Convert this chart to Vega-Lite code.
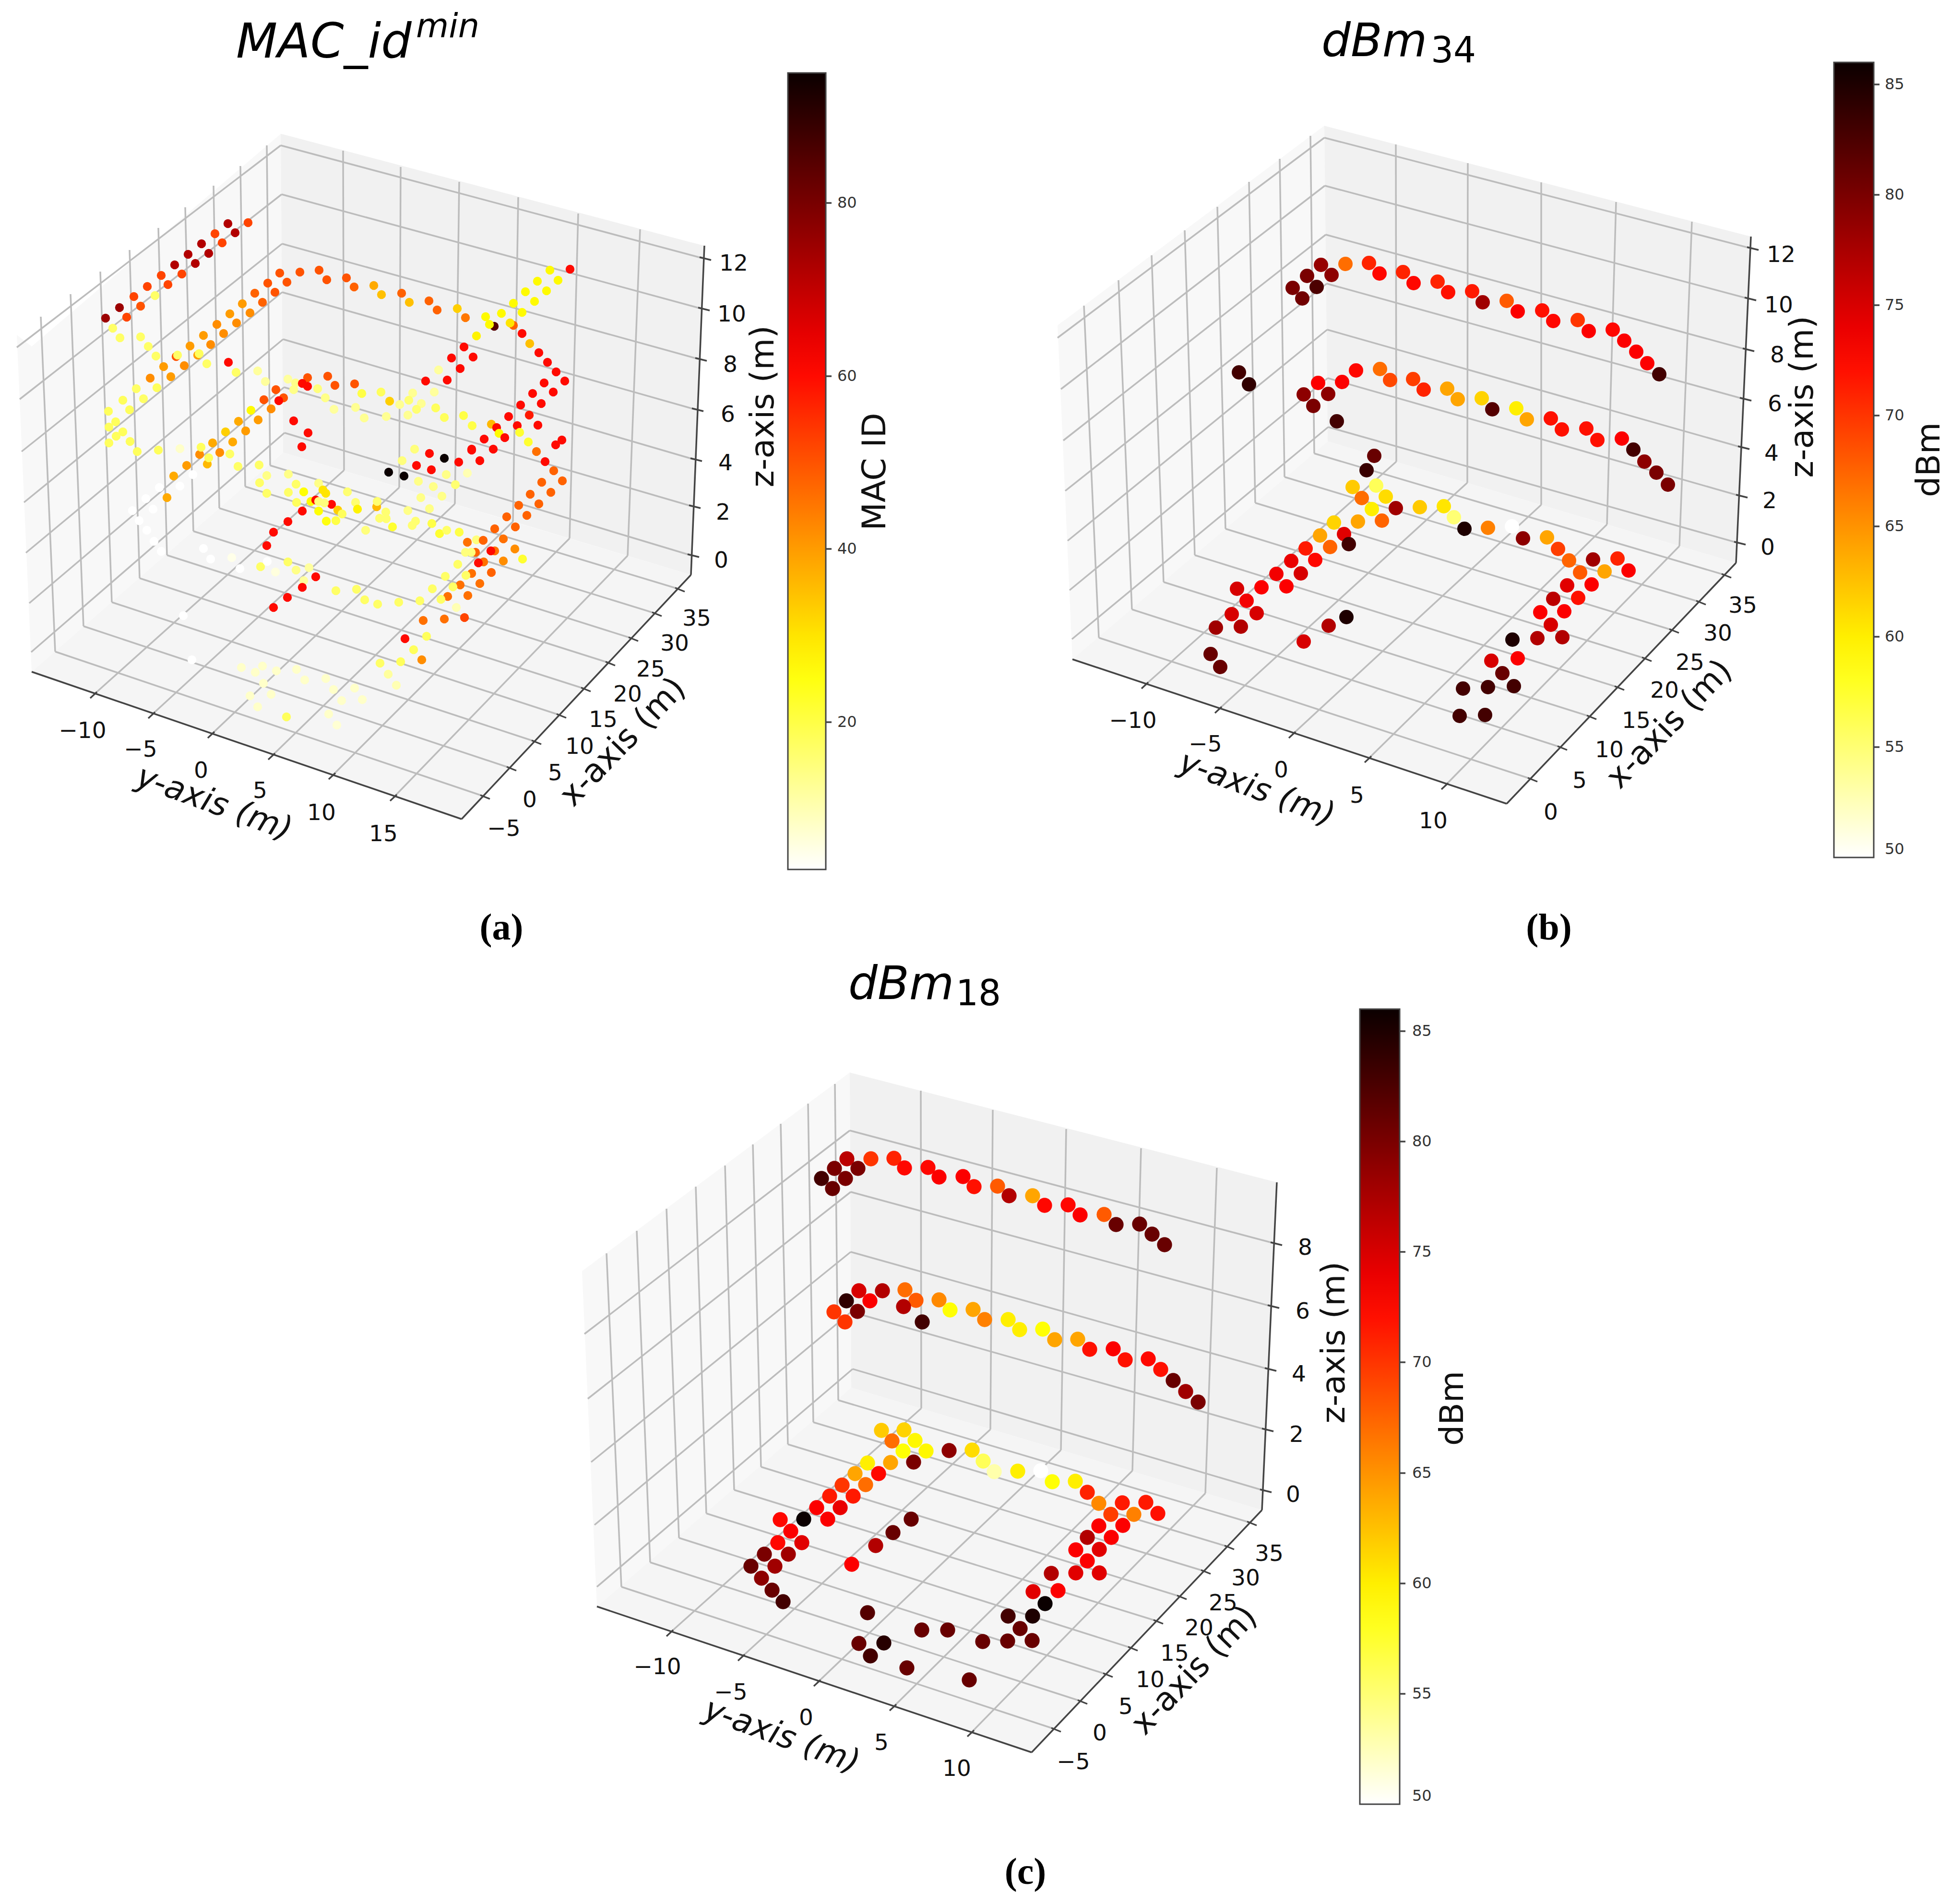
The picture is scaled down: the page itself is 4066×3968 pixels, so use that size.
{"$schema":"https://vega.github.io/schema/vega-lite/v6.json","width":4066,"height":3968,"padding":0,"autosize":{"type":"none"},"background":"white",
"datasets":{
"panes":[
{"panel":"a","pane":"left","x":35,"y":698,"y2":698},{"panel":"a","pane":"left","x":66,"y":722,"y2":1400},{"panel":"a","pane":"left","x":585,"y":279,"y2":947},{"panel":"a","pane":"left","x":590,"y":943,"y2":943},
{"panel":"a","pane":"back","x":585,"y":279,"y2":279},{"panel":"a","pane":"back","x":590,"y":280,"y2":943},{"panel":"a","pane":"back","x":1440,"y":505,"y2":1198},{"panel":"a","pane":"back","x":1468,"y":512,"y2":512},
{"panel":"a","pane":"floor","x":66,"y":1400,"y2":1400},{"panel":"a","pane":"floor","x":590,"y":943,"y2":1580},{"panel":"a","pane":"floor","x":962,"y":1055,"y2":1707},{"panel":"a","pane":"floor","x":1440,"y":1198,"y2":1198},
{"panel":"b","pane":"left","x":2204,"y":678,"y2":678},{"panel":"b","pane":"left","x":2235,"y":655,"y2":1374},{"panel":"b","pane":"left","x":2760,"y":262,"y2":926},{"panel":"b","pane":"left","x":2767,"y":920,"y2":920},
{"panel":"b","pane":"back","x":2760,"y":262,"y2":262},{"panel":"b","pane":"back","x":2767,"y":264,"y2":920},{"panel":"b","pane":"back","x":3618,"y":485,"y2":1173},{"panel":"b","pane":"back","x":3649,"y":493,"y2":493},
{"panel":"b","pane":"floor","x":2235,"y":1374,"y2":1374},{"panel":"b","pane":"floor","x":2767,"y":920,"y2":1551},{"panel":"b","pane":"floor","x":3140,"y":1031,"y2":1675},{"panel":"b","pane":"floor","x":3618,"y":1173,"y2":1173},
{"panel":"c","pane":"left","x":1213,"y":2649,"y2":2649},{"panel":"c","pane":"left","x":1244,"y":2626,"y2":3348},{"panel":"c","pane":"left","x":1771,"y":2235,"y2":2895},{"panel":"c","pane":"left","x":1774,"y":2892,"y2":2892},
{"panel":"c","pane":"back","x":1771,"y":2235,"y2":2235},{"panel":"c","pane":"back","x":1774,"y":2236,"y2":2892},{"panel":"c","pane":"back","x":2630,"y":2456,"y2":3147},{"panel":"c","pane":"back","x":2661,"y":2464,"y2":2464},
{"panel":"c","pane":"floor","x":1244,"y":3348,"y2":3348},{"panel":"c","pane":"floor","x":1774,"y":2892,"y2":3526},{"panel":"c","pane":"floor","x":2150,"y":3004,"y2":3652},{"panel":"c","pane":"floor","x":2630,"y":3147,"y2":3147}
],
"grid":[
{"x":35,"y":724,"x2":585,"y2":303},{"x":41,"y":832,"x2":587,"y2":405},{"x":45,"y":941,"x2":588,"y2":508},{"x":50,"y":1047,"x2":588,"y2":609},{"x":54,"y":1152,"x2":590,"y2":707},{"x":61,"y":1257,"x2":592,"y2":807},{"x":65,"y":1359,"x2":593,"y2":902},
{"x":585,"y":303,"x2":1464,"y2":538},{"x":587,"y":405,"x2":1461,"y2":643},{"x":588,"y":508,"x2":1455,"y2":748},{"x":588,"y":609,"x2":1448,"y2":853},{"x":590,"y":707,"x2":1445,"y2":957},{"x":592,"y":807,"x2":1442,"y2":1055},{"x":593,"y":902,"x2":1439,"y2":1157},
{"x":85,"y":660,"x2":115,"y2":1358},{"x":147,"y":613,"x2":174,"y2":1305},{"x":209,"y":566,"x2":233,"y2":1255},{"x":270,"y":521,"x2":291,"y2":1205},{"x":330,"y":475,"x2":348,"y2":1157},{"x":386,"y":432,"x2":403,"y2":1107},{"x":445,"y":387,"x2":457,"y2":1059},{"x":501,"y":346,"x2":511,"y2":1014},{"x":556,"y":303,"x2":563,"y2":970},
{"x":115,"y":1358,"x2":1007,"y2":1659},{"x":174,"y":1305,"x2":1062,"y2":1600},{"x":233,"y":1255,"x2":1114,"y2":1545},{"x":291,"y":1205,"x2":1166,"y2":1490},{"x":348,"y":1157,"x2":1217,"y2":1435},{"x":403,"y":1107,"x2":1268,"y2":1381},{"x":457,"y":1059,"x2":1316,"y2":1330},{"x":511,"y":1014,"x2":1365,"y2":1278},{"x":563,"y":970,"x2":1413,"y2":1227},
{"x":715,"y":314,"x2":717,"y2":980},{"x":835,"y":348,"x2":832,"y2":1016},{"x":957,"y":379,"x2":948,"y2":1050},{"x":1080,"y":411,"x2":1069,"y2":1087},{"x":1205,"y":445,"x2":1187,"y2":1122},{"x":1334,"y":478,"x2":1308,"y2":1158},
{"x":717,"y":980,"x2":195,"y2":1448},{"x":832,"y":1016,"x2":316,"y2":1490},{"x":948,"y":1050,"x2":440,"y2":1531},{"x":1069,"y":1087,"x2":566,"y2":1576},{"x":1187,"y":1122,"x2":692,"y2":1617},{"x":1308,"y":1158,"x2":820,"y2":1662},

{"x":2204,"y":704,"x2":2760,"y2":287},{"x":2211,"y":811,"x2":2761,"y2":387},{"x":2216,"y":918,"x2":2763,"y2":489},{"x":2220,"y":1023,"x2":2765,"y2":591},{"x":2225,"y":1127,"x2":2766,"y2":687},{"x":2229,"y":1230,"x2":2767,"y2":788},{"x":2234,"y":1332,"x2":2768,"y2":890},
{"x":2760,"y":287,"x2":3651,"y2":518},{"x":2761,"y":387,"x2":3646,"y2":623},{"x":2763,"y":489,"x2":3642,"y2":729},{"x":2765,"y":591,"x2":3636,"y2":832},{"x":2766,"y":687,"x2":3632,"y2":933},{"x":2767,"y":788,"x2":3628,"y2":1034},{"x":2768,"y":890,"x2":3624,"y2":1132},
{"x":2259,"y":637,"x2":2290,"y2":1329},{"x":2331,"y":584,"x2":2359,"y2":1270},{"x":2400,"y":532,"x2":2425,"y2":1213},{"x":2469,"y":480,"x2":2490,"y2":1157},{"x":2537,"y":431,"x2":2554,"y2":1102},{"x":2603,"y":379,"x2":2616,"y2":1048},{"x":2667,"y":331,"x2":2677,"y2":994},{"x":2731,"y":283,"x2":2739,"y2":945},
{"x":2290,"y":1329,"x2":3190,"y2":1623},{"x":2359,"y":1270,"x2":3252,"y2":1557},{"x":2425,"y":1213,"x2":3313,"y2":1493},{"x":2490,"y":1157,"x2":3371,"y2":1432},{"x":2554,"y":1102,"x2":3428,"y2":1372},{"x":2616,"y":1048,"x2":3485,"y2":1313},{"x":2677,"y":994,"x2":3541,"y2":1254},{"x":2739,"y":945,"x2":3594,"y2":1198},
{"x":2909,"y":301,"x2":2910,"y2":962},{"x":3059,"y":340,"x2":3058,"y2":1006},{"x":3212,"y":380,"x2":3212,"y2":1052},{"x":3368,"y":421,"x2":3349,"y2":1093},{"x":3526,"y":462,"x2":3500,"y2":1138},
{"x":2910,"y":962,"x2":2386,"y2":1428},{"x":3058,"y":1006,"x2":2539,"y2":1479},{"x":3212,"y":1052,"x2":2693,"y2":1531},{"x":3349,"y":1093,"x2":2851,"y2":1582},{"x":3500,"y":1138,"x2":3011,"y2":1638},

{"x":1218,"y":2780,"x2":1771,"y2":2356},{"x":1225,"y":2915,"x2":1773,"y2":2484},{"x":1232,"y":3047,"x2":1773,"y2":2609},{"x":1239,"y":3178,"x2":1774,"y2":2734},{"x":1244,"y":3307,"x2":1777,"y2":2853},
{"x":1771,"y":2356,"x2":2659,"y2":2592},{"x":1773,"y":2484,"x2":2652,"y2":2723},{"x":1773,"y":2609,"x2":2646,"y2":2854},{"x":1774,"y":2734,"x2":2640,"y2":2980},{"x":1777,"y":2853,"x2":2636,"y2":3107},
{"x":1264,"y":2612,"x2":1295,"y2":3307},{"x":1327,"y":2565,"x2":1355,"y2":3256},{"x":1389,"y":2519,"x2":1415,"y2":3205},{"x":1450,"y":2473,"x2":1472,"y2":3154},{"x":1511,"y":2429,"x2":1530,"y2":3105},{"x":1569,"y":2385,"x2":1586,"y2":3057},{"x":1627,"y":2342,"x2":1642,"y2":3010},{"x":1684,"y":2300,"x2":1695,"y2":2964},{"x":1740,"y":2259,"x2":1747,"y2":2918},
{"x":1295,"y":3307,"x2":2197,"y2":3603},{"x":1355,"y":3256,"x2":2252,"y2":3545},{"x":1415,"y":3205,"x2":2305,"y2":3489},{"x":1472,"y":3154,"x2":2357,"y2":3434},{"x":1530,"y":3105,"x2":2410,"y2":3378},{"x":1586,"y":3057,"x2":2459,"y2":3327},{"x":1642,"y":3010,"x2":2509,"y2":3274},{"x":1695,"y":2964,"x2":2558,"y2":3223},{"x":1747,"y":2918,"x2":2605,"y2":3173},
{"x":1919,"y":2273,"x2":1920,"y2":2935},{"x":2069,"y":2313,"x2":2064,"y2":2979},{"x":2222,"y":2353,"x2":2211,"y2":3022},{"x":2378,"y":2393,"x2":2360,"y2":3065},{"x":2536,"y":2434,"x2":2512,"y2":3112},
{"x":1920,"y":2935,"x2":1396,"y2":3403},{"x":2064,"y":2979,"x2":1545,"y2":3454},{"x":2211,"y":3022,"x2":1703,"y2":3507},{"x":2360,"y":3065,"x2":1861,"y2":3558},{"x":2512,"y":3112,"x2":2023,"y2":3612}
],
"axes":[
{"x":66,"y":1400,"x2":962,"y2":1707},{"x":962,"y":1707,"x2":1440,"y2":1198},{"x":1440,"y":1198,"x2":1468,"y2":512},
{"x":188,"y":1455,"x2":202,"y2":1442},{"x":309,"y":1497,"x2":323,"y2":1484},{"x":433,"y":1538,"x2":447,"y2":1525},{"x":559,"y":1583,"x2":573,"y2":1570},{"x":685,"y":1624,"x2":699,"y2":1611},{"x":813,"y":1669,"x2":827,"y2":1656},
{"x":1001,"y":1657,"x2":1021,"y2":1665},{"x":1056,"y":1598,"x2":1076,"y2":1606},{"x":1108,"y":1543,"x2":1128,"y2":1551},{"x":1160,"y":1488,"x2":1180,"y2":1496},{"x":1211,"y":1433,"x2":1231,"y2":1441},{"x":1262,"y":1379,"x2":1282,"y2":1387},{"x":1310,"y":1328,"x2":1330,"y2":1336},{"x":1359,"y":1276,"x2":1379,"y2":1284},{"x":1407,"y":1225,"x2":1427,"y2":1233},
{"x":1458,"y":536,"x2":1482,"y2":542},{"x":1455,"y":641,"x2":1479,"y2":647},{"x":1449,"y":746,"x2":1473,"y2":752},{"x":1442,"y":851,"x2":1466,"y2":857},{"x":1439,"y":955,"x2":1463,"y2":961},{"x":1436,"y":1053,"x2":1460,"y2":1059},{"x":1433,"y":1155,"x2":1457,"y2":1161},
{"x":1721,"y":423,"x2":1733,"y2":423},{"x":1721,"y":784,"x2":1733,"y2":784},{"x":1721,"y":1144,"x2":1733,"y2":1144},{"x":1721,"y":1505,"x2":1733,"y2":1505},

{"x":2235,"y":1374,"x2":3140,"y2":1675},{"x":3140,"y":1675,"x2":3618,"y2":1173},{"x":3618,"y":1173,"x2":3649,"y2":493},
{"x":2379,"y":1435,"x2":2393,"y2":1422},{"x":2532,"y":1486,"x2":2546,"y2":1473},{"x":2686,"y":1538,"x2":2700,"y2":1525},{"x":2844,"y":1589,"x2":2858,"y2":1576},{"x":3004,"y":1645,"x2":3018,"y2":1632},
{"x":3184,"y":1621,"x2":3204,"y2":1629},{"x":3246,"y":1555,"x2":3266,"y2":1563},{"x":3307,"y":1491,"x2":3327,"y2":1499},{"x":3365,"y":1430,"x2":3385,"y2":1438},{"x":3422,"y":1370,"x2":3442,"y2":1378},{"x":3479,"y":1311,"x2":3499,"y2":1319},{"x":3535,"y":1252,"x2":3555,"y2":1260},{"x":3588,"y":1196,"x2":3608,"y2":1204},
{"x":3641,"y":515,"x2":3665,"y2":521},{"x":3636,"y":620,"x2":3660,"y2":626},{"x":3632,"y":726,"x2":3656,"y2":732},{"x":3626,"y":829,"x2":3650,"y2":835},{"x":3622,"y":930,"x2":3646,"y2":936},{"x":3618,"y":1031,"x2":3642,"y2":1037},{"x":3614,"y":1129,"x2":3638,"y2":1135},
{"x":3905,"y":176,"x2":3917,"y2":176},{"x":3905,"y":406,"x2":3917,"y2":406},{"x":3905,"y":636,"x2":3917,"y2":636},{"x":3905,"y":866,"x2":3917,"y2":866},{"x":3905,"y":1097,"x2":3917,"y2":1097},{"x":3905,"y":1327,"x2":3917,"y2":1327},{"x":3905,"y":1557,"x2":3917,"y2":1557},

{"x":1244,"y":3348,"x2":2150,"y2":3652},{"x":2150,"y":3652,"x2":2630,"y2":3147},{"x":2630,"y":3147,"x2":2661,"y2":2464},
{"x":1389,"y":3410,"x2":1403,"y2":3397},{"x":1538,"y":3461,"x2":1552,"y2":3448},{"x":1696,"y":3514,"x2":1710,"y2":3501},{"x":1854,"y":3565,"x2":1868,"y2":3552},{"x":2016,"y":3619,"x2":2030,"y2":3606},
{"x":2191,"y":3601,"x2":2211,"y2":3609},{"x":2246,"y":3543,"x2":2266,"y2":3551},{"x":2299,"y":3487,"x2":2319,"y2":3495},{"x":2351,"y":3432,"x2":2371,"y2":3440},{"x":2404,"y":3376,"x2":2424,"y2":3384},{"x":2453,"y":3325,"x2":2473,"y2":3333},{"x":2503,"y":3272,"x2":2523,"y2":3280},{"x":2552,"y":3221,"x2":2572,"y2":3229},{"x":2599,"y":3171,"x2":2619,"y2":3179},
{"x":2648,"y":2589,"x2":2672,"y2":2595},{"x":2642,"y":2720,"x2":2666,"y2":2726},{"x":2636,"y":2851,"x2":2660,"y2":2857},{"x":2630,"y":2977,"x2":2654,"y2":2983},{"x":2626,"y":3104,"x2":2650,"y2":3110},
{"x":2917,"y":2149,"x2":2929,"y2":2149},{"x":2917,"y":2379,"x2":2929,"y2":2379},{"x":2917,"y":2609,"x2":2929,"y2":2609},{"x":2917,"y":2839,"x2":2929,"y2":2839},{"x":2917,"y":3070,"x2":2929,"y2":3070},{"x":2917,"y":3300,"x2":2929,"y2":3300},{"x":2917,"y":3530,"x2":2929,"y2":3530}
],
"labels":[
{"k":"tick","t":"−10","x":172,"y":1524},{"k":"tick","t":"−5","x":293,"y":1563},{"k":"tick","t":"0","x":419,"y":1607},{"k":"tick","t":"5","x":542,"y":1649},{"k":"tick","t":"10","x":670,"y":1695},{"k":"tick","t":"15","x":799,"y":1739},
{"k":"tick","t":"−5","x":1050,"y":1728},{"k":"tick","t":"0","x":1104,"y":1668},{"k":"tick","t":"5","x":1157,"y":1612},{"k":"tick","t":"10","x":1208,"y":1557},{"k":"tick","t":"15","x":1257,"y":1501},{"k":"tick","t":"20","x":1308,"y":1448},{"k":"tick","t":"25","x":1356,"y":1396},{"k":"tick","t":"30","x":1406,"y":1342},{"k":"tick","t":"35","x":1452,"y":1290},
{"k":"tick","t":"12","x":1529,"y":550},{"k":"tick","t":"10","x":1525,"y":656},{"k":"tick","t":"8","x":1522,"y":761},{"k":"tick","t":"6","x":1517,"y":865},{"k":"tick","t":"4","x":1512,"y":966},{"k":"tick","t":"2","x":1507,"y":1069},{"k":"tick","t":"0","x":1503,"y":1169},
{"k":"tick","t":"−10","x":2361,"y":1503},{"k":"tick","t":"−5","x":2512,"y":1552},{"k":"tick","t":"0","x":2670,"y":1606},{"k":"tick","t":"5","x":2828,"y":1659},{"k":"tick","t":"10","x":2987,"y":1712},
{"k":"tick","t":"0","x":3232,"y":1694},{"k":"tick","t":"5","x":3292,"y":1628},{"k":"tick","t":"10","x":3354,"y":1564},{"k":"tick","t":"15","x":3410,"y":1503},{"k":"tick","t":"20","x":3469,"y":1440},{"k":"tick","t":"25","x":3522,"y":1382},{"k":"tick","t":"30","x":3580,"y":1321},{"k":"tick","t":"35","x":3632,"y":1263},
{"k":"tick","t":"12","x":3712,"y":532},{"k":"tick","t":"10","x":3707,"y":637},{"k":"tick","t":"8","x":3704,"y":741},{"k":"tick","t":"6","x":3699,"y":843},{"k":"tick","t":"4","x":3692,"y":946},{"k":"tick","t":"2","x":3688,"y":1045},{"k":"tick","t":"0","x":3684,"y":1142},
{"k":"tick","t":"−10","x":1370,"y":3475},{"k":"tick","t":"−5","x":1523,"y":3528},{"k":"tick","t":"0","x":1680,"y":3581},{"k":"tick","t":"5","x":1837,"y":3633},{"k":"tick","t":"10","x":1994,"y":3687},
{"k":"tick","t":"−5","x":2237,"y":3673},{"k":"tick","t":"0","x":2292,"y":3613},{"k":"tick","t":"5","x":2346,"y":3558},{"k":"tick","t":"10","x":2397,"y":3502},{"k":"tick","t":"15","x":2448,"y":3447},{"k":"tick","t":"20","x":2499,"y":3394},{"k":"tick","t":"25","x":2549,"y":3342},{"k":"tick","t":"30","x":2596,"y":3290},{"k":"tick","t":"35","x":2645,"y":3239},
{"k":"tick","t":"8","x":2720,"y":2601},{"k":"tick","t":"6","x":2715,"y":2734},{"k":"tick","t":"4","x":2707,"y":2865},{"k":"tick","t":"2","x":2702,"y":2991},{"k":"tick","t":"0","x":2695,"y":3116},
{"k":"ytitle","t":"y-axis (m)","x":446,"y":1675},{"k":"ytitle","t":"y-axis (m)","x":2619,"y":1645},{"k":"ytitle","t":"y-axis (m)","x":1629,"y":3619},
{"k":"xtitle","t":"x-axis (m)","x":1299,"y":1547},{"k":"xtitle","t":"x-axis (m)","x":3480,"y":1510},{"k":"xtitle","t":"x-axis (m)","x":2490,"y":3482},
{"k":"ztitle","t":"z-axis (m)","x":1592,"y":847},{"k":"ztitle","t":"z-axis (m)","x":3758,"y":827},{"k":"ztitle","t":"z-axis (m)","x":2782,"y":2798},
{"k":"ztitle","t":"MAC ID","x":1825,"y":983},{"k":"ztitle","t":"dBm","x":4022,"y":958},{"k":"ztitle","t":"dBm","x":3029,"y":2935},
{"k":"main","t":"MAC_id","x":492,"y":120},{"k":"main2","t":"dBm","x":2754,"y":117},{"k":"main2","t":"dBm","x":1768,"y":2082},
{"k":"sup","t":"min","x":867,"y":78},{"k":"sub","t":"34","x":2982,"y":130},{"k":"sub","t":"18","x":1992,"y":2095},
{"k":"caption","t":"(a)","x":1045,"y":1958},{"k":"caption","t":"(b)","x":3228,"y":1958},{"k":"caption","t":"(c)","x":2137,"y":3926}
],
"macId":[
{"x":220,"y":663,"v":75},{"x":249,"y":641,"v":75},{"x":264,"y":661,"v":52},{"x":279,"y":618,"v":52},{"x":293,"y":638,"v":50},{"x":307,"y":597,"v":52},{"x":323,"y":616,"v":17},{"x":336,"y":574,"v":52},{"x":350,"y":593,"v":52},{"x":364,"y":552,"v":72},{"x":379,"y":571,"v":52},{"x":392,"y":530,"v":72},{"x":407,"y":549,"v":72},{"x":420,"y":508,"v":72},{"x":435,"y":528,"v":72},{"x":448,"y":487,"v":52},{"x":463,"y":506,"v":52},{"x":475,"y":466,"v":72},{"x":490,"y":485,"v":72},{"x":517,"y":464,"v":52},
{"x":235,"y":684,"v":17},{"x":250,"y":704,"v":17},{"x":293,"y":702,"v":17},{"x":309,"y":722,"v":17},{"x":325,"y":742,"v":17},{"x":341,"y":764,"v":40},{"x":356,"y":785,"v":40},{"x":313,"y":788,"v":42},{"x":284,"y":810,"v":17},{"x":299,"y":831,"v":17},{"x":327,"y":808,"v":18},{"x":384,"y":762,"v":42},{"x":367,"y":743,"v":50},{"x":370,"y":740,"v":17},{"x":396,"y":721,"v":40},{"x":412,"y":740,"v":40},{"x":415,"y":737,"v":18},{"x":439,"y":718,"v":42},{"x":424,"y":699,"v":40},{"x":466,"y":695,"v":42},{"x":452,"y":676,"v":42},{"x":493,"y":673,"v":42},{"x":479,"y":654,"v":40},{"x":521,"y":652,"v":42},{"x":505,"y":633,"v":40},{"x":547,"y":630,"v":48},{"x":531,"y":611,"v":48},{"x":573,"y":609,"v":50},{"x":558,"y":590,"v":50},{"x":598,"y":588,"v":50},{"x":583,"y":569,"v":50},{"x":625,"y":567,"v":50},{"x":665,"y":563,"v":50},{"x":681,"y":583,"v":50},{"x":722,"y":579,"v":50},{"x":738,"y":598,"v":48},{"x":779,"y":595,"v":38},{"x":795,"y":614,"v":35},{"x":837,"y":611,"v":48},{"x":853,"y":630,"v":35},{"x":894,"y":627,"v":48},{"x":911,"y":646,"v":48},{"x":953,"y":643,"v":33},{"x":970,"y":662,"v":45},{"x":993,"y":700,"v":28},
{"x":1030,"y":680,"v":85},{"x":1012,"y":660,"v":27},{"x":1020,"y":676,"v":27},{"x":1045,"y":653,"v":27},{"x":1070,"y":632,"v":27},{"x":1088,"y":651,"v":27},{"x":1095,"y":608,"v":27},{"x":1114,"y":628,"v":27},{"x":1120,"y":586,"v":27},{"x":1139,"y":606,"v":27},{"x":1146,"y":563,"v":27},{"x":1163,"y":584,"v":27},{"x":1188,"y":561,"v":60},{"x":1070,"y":678,"v":48},{"x":1063,"y":673,"v":30},{"x":1088,"y":695,"v":60},{"x":1104,"y":716,"v":35},{"x":1123,"y":735,"v":60},{"x":1141,"y":755,"v":60},{"x":1159,"y":775,"v":60},{"x":1177,"y":794,"v":60},{"x":1134,"y":798,"v":60},{"x":1153,"y":817,"v":60},{"x":1110,"y":820,"v":60},{"x":1128,"y":841,"v":60},{"x":1085,"y":844,"v":60},{"x":1103,"y":865,"v":58},{"x":1121,"y":886,"v":60},{"x":1060,"y":868,"v":60},{"x":1078,"y":887,"v":60},{"x":1024,"y":884,"v":36},{"x":1035,"y":891,"v":60},{"x":1040,"y":903,"v":27},{"x":1052,"y":912,"v":60},{"x":1009,"y":915,"v":60},{"x":1028,"y":936,"v":60},{"x":983,"y":938,"v":60},{"x":1000,"y":960,"v":60},{"x":956,"y":963,"v":60},{"x":1083,"y":901,"v":22},{"x":1101,"y":921,"v":22},{"x":966,"y":866,"v":20},{"x":984,"y":887,"v":20},{"x":926,"y":870,"v":18},{"x":908,"y":850,"v":18},{"x":905,"y":817,"v":12},{"x":986,"y":744,"v":60},{"x":967,"y":723,"v":60},{"x":941,"y":746,"v":60},{"x":959,"y":768,"v":60},{"x":914,"y":771,"v":12},{"x":932,"y":792,"v":60},{"x":1118,"y":941,"v":46},{"x":1136,"y":962,"v":60},{"x":1154,"y":981,"v":48},{"x":1158,"y":927,"v":60},{"x":1171,"y":917,"v":60},{"x":887,"y":794,"v":60},
{"x":476,"y":755,"v":60},{"x":492,"y":776,"v":17},{"x":431,"y":758,"v":17},{"x":537,"y":773,"v":12},{"x":553,"y":795,"v":12},{"x":600,"y":790,"v":12},{"x":616,"y":798,"v":14},{"x":612,"y":812,"v":14},{"x":641,"y":787,"v":50},{"x":630,"y":799,"v":60},{"x":641,"y":805,"v":60},{"x":662,"y":810,"v":15},{"x":683,"y":784,"v":50},{"x":698,"y":803,"v":50},{"x":678,"y":829,"v":14},{"x":696,"y":853,"v":12},{"x":739,"y":800,"v":50},{"x":754,"y":820,"v":20},{"x":741,"y":849,"v":13},{"x":759,"y":871,"v":13},{"x":794,"y":817,"v":18},{"x":812,"y":836,"v":33},{"x":805,"y":868,"v":13},{"x":833,"y":843,"v":13},{"x":860,"y":819,"v":13},{"x":852,"y":834,"v":16},{"x":878,"y":841,"v":13},{"x":868,"y":853,"v":16},{"x":850,"y":865,"v":13},
{"x":575,"y":812,"v":50},{"x":550,"y":833,"v":50},{"x":591,"y":829,"v":50},{"x":581,"y":835,"v":60},{"x":565,"y":852,"v":42},{"x":523,"y":855,"v":27},{"x":538,"y":875,"v":40},{"x":497,"y":878,"v":38},{"x":512,"y":898,"v":40},{"x":470,"y":900,"v":33},{"x":485,"y":921,"v":38},{"x":443,"y":923,"v":38},{"x":458,"y":943,"v":42},{"x":416,"y":947,"v":42},{"x":432,"y":967,"v":36},{"x":389,"y":970,"v":40},{"x":362,"y":992,"v":38},{"x":348,"y":1037,"v":38},{"x":419,"y":932,"v":18},{"x":435,"y":954,"v":18},{"x":479,"y":946,"v":17},{"x":496,"y":972,"v":17},{"x":540,"y":969,"v":17},{"x":556,"y":991,"v":14},{"x":601,"y":988,"v":14},{"x":375,"y":935,"v":8},{"x":330,"y":938,"v":18},{"x":286,"y":941,"v":18},{"x":271,"y":920,"v":18},{"x":227,"y":923,"v":18},{"x":242,"y":909,"v":18},{"x":256,"y":900,"v":18},{"x":227,"y":890,"v":18},{"x":241,"y":879,"v":18},{"x":226,"y":857,"v":18},{"x":270,"y":854,"v":18},{"x":256,"y":834,"v":18},{"x":612,"y":877,"v":60},{"x":642,"y":902,"v":60},{"x":629,"y":931,"v":60},
{"x":864,"y":936,"v":15},{"x":895,"y":945,"v":60},{"x":926,"y":955,"v":95},{"x":983,"y":936,"v":60},{"x":974,"y":986,"v":10},{"x":868,"y":970,"v":60},{"x":899,"y":979,"v":60},{"x":838,"y":960,"v":15},{"x":810,"y":984,"v":95},{"x":842,"y":992,"v":95},{"x":930,"y":989,"v":14},{"x":949,"y":1010,"v":16},{"x":872,"y":1003,"v":14},{"x":903,"y":1014,"v":14},{"x":877,"y":1037,"v":14},{"x":921,"y":1034,"v":14},{"x":895,"y":1060,"v":14},{"x":850,"y":1064,"v":14},{"x":785,"y":1056,"v":36},{"x":786,"y":1045,"v":16},
{"x":541,"y":1006,"v":17},{"x":556,"y":1028,"v":17},{"x":617,"y":1009,"v":17},{"x":601,"y":1026,"v":17},{"x":633,"y":1025,"v":26},{"x":664,"y":1007,"v":14},{"x":673,"y":1021,"v":30},{"x":679,"y":1028,"v":30},{"x":724,"y":1025,"v":16},{"x":618,"y":1047,"v":18},{"x":648,"y":1045,"v":27},{"x":658,"y":1042,"v":60},{"x":664,"y":1045,"v":15},{"x":691,"y":1051,"v":60},{"x":676,"y":1048,"v":15},{"x":630,"y":1065,"v":60},{"x":664,"y":1065,"v":26},{"x":704,"y":1063,"v":33},{"x":713,"y":1071,"v":18},{"x":680,"y":1086,"v":25},{"x":700,"y":1085,"v":20},{"x":741,"y":1047,"v":16},{"x":745,"y":1061,"v":28},{"x":804,"y":1067,"v":16},{"x":791,"y":1080,"v":16},{"x":805,"y":1081,"v":16},{"x":818,"y":1098,"v":22},{"x":762,"y":1105,"v":15},{"x":866,"y":1086,"v":16},{"x":859,"y":1095,"v":16},{"x":900,"y":1091,"v":20},{"x":916,"y":1112,"v":22},{"x":931,"y":1105,"v":17},{"x":957,"y":1109,"v":20},{"x":600,"y":1087,"v":60},{"x":570,"y":1109,"v":60},{"x":556,"y":1137,"v":60},
{"x":974,"y":1130,"v":46},{"x":993,"y":1125,"v":15},{"x":991,"y":1151,"v":48},{"x":970,"y":1151,"v":15},{"x":982,"y":1151,"v":15},{"x":1008,"y":1171,"v":46},{"x":997,"y":1173,"v":60},{"x":954,"y":1176,"v":17},{"x":983,"y":1195,"v":46},{"x":971,"y":1199,"v":17},{"x":928,"y":1201,"v":17},{"x":959,"y":1219,"v":46},{"x":944,"y":1223,"v":17},{"x":901,"y":1227,"v":17},{"x":933,"y":1243,"v":46},{"x":919,"y":1249,"v":17},{"x":975,"y":1241,"v":46},{"x":1000,"y":1216,"v":46},{"x":875,"y":1252,"v":17},{"x":831,"y":1255,"v":17},{"x":787,"y":1259,"v":17},{"x":760,"y":1250,"v":17},{"x":743,"y":1228,"v":17},{"x":700,"y":1231,"v":17},{"x":951,"y":1266,"v":10},{"x":968,"y":1287,"v":52},{"x":926,"y":1290,"v":46},{"x":882,"y":1293,"v":46},{"x":889,"y":1326,"v":18},{"x":844,"y":1331,"v":60},{"x":862,"y":1354,"v":18},{"x":879,"y":1375,"v":42},{"x":835,"y":1379,"v":18},{"x":792,"y":1382,"v":17},{"x":809,"y":1405,"v":12},{"x":826,"y":1428,"v":10},
{"x":644,"y":1183,"v":12},{"x":617,"y":1188,"v":14},{"x":633,"y":1210,"v":12},{"x":658,"y":1202,"v":60},{"x":630,"y":1224,"v":60},{"x":599,"y":1245,"v":60},{"x":570,"y":1266,"v":60},{"x":600,"y":1171,"v":17},{"x":543,"y":1181,"v":17},{"x":557,"y":1170,"v":3},{"x":574,"y":1192,"v":6},{"x":500,"y":1185,"v":3},{"x":483,"y":1162,"v":5},{"x":439,"y":1165,"v":3},{"x":424,"y":1143,"v":3},{"x":336,"y":1149,"v":3},{"x":321,"y":1128,"v":3},{"x":306,"y":1105,"v":3},{"x":290,"y":1085,"v":3},{"x":276,"y":1064,"v":3},{"x":319,"y":1061,"v":3},{"x":304,"y":1039,"v":3},{"x":332,"y":1016,"v":3},{"x":375,"y":1013,"v":3},{"x":402,"y":989,"v":3},{"x":382,"y":1283,"v":3},{"x":400,"y":1375,"v":3},
{"x":503,"y":1391,"v":8},{"x":532,"y":1401,"v":8},{"x":547,"y":1388,"v":8},{"x":576,"y":1398,"v":8},{"x":618,"y":1395,"v":8},{"x":635,"y":1417,"v":8},{"x":679,"y":1414,"v":8},{"x":695,"y":1437,"v":8},{"x":739,"y":1434,"v":8},{"x":712,"y":1460,"v":8},{"x":755,"y":1458,"v":8},{"x":549,"y":1424,"v":8},{"x":565,"y":1447,"v":8},{"x":521,"y":1450,"v":8},{"x":537,"y":1473,"v":8},{"x":597,"y":1494,"v":18},{"x":685,"y":1488,"v":8},{"x":702,"y":1511,"v":7},
{"x":1172,"y":1002,"v":48},{"x":1129,"y":1005,"v":48},{"x":1148,"y":1026,"v":48},{"x":1105,"y":1030,"v":48},{"x":1123,"y":1050,"v":48},{"x":1081,"y":1053,"v":48},{"x":1098,"y":1074,"v":48},{"x":1056,"y":1077,"v":48},{"x":1074,"y":1098,"v":48},{"x":1031,"y":1102,"v":48},{"x":1049,"y":1123,"v":46},{"x":1007,"y":1126,"v":48},{"x":1031,"y":1148,"v":46},{"x":1023,"y":1148,"v":60},{"x":1073,"y":1144,"v":42},{"x":1089,"y":1165,"v":22},{"x":1049,"y":1169,"v":42},{"x":1024,"y":1193,"v":48}
],
"dbm34":[
{"x":2753,"y":552,"v":78.5},{"x":2804,"y":550,"v":67},{"x":2853,"y":548,"v":71},{"x":2875,"y":570,"v":72.5},{"x":2924,"y":567,"v":71},{"x":2946,"y":590,"v":72.5},{"x":2775,"y":573,"v":79},{"x":2724,"y":575,"v":80},{"x":2744,"y":598,"v":82.5},{"x":2694,"y":600,"v":80},{"x":2714,"y":622,"v":80.5},{"x":2582,"y":776,"v":83},{"x":2603,"y":801,"v":84},{"x":2826,"y":772,"v":72.5},{"x":2876,"y":769,"v":67},{"x":2897,"y":792,"v":69},{"x":2945,"y":790,"v":69.5},{"x":2967,"y":812,"v":71},{"x":2747,"y":798,"v":73},{"x":2797,"y":796,"v":73},{"x":2717,"y":822,"v":79},{"x":2768,"y":821,"v":79},{"x":2737,"y":846,"v":80},{"x":2786,"y":878,"v":83},{"x":2864,"y":950,"v":81},{"x":2848,"y":980,"v":83.5},{"x":2819,"y":1015,"v":62},{"x":2868,"y":1012,"v":56},{"x":2838,"y":1038,"v":67},{"x":2888,"y":1035,"v":61},{"x":2859,"y":1061,"v":60},{"x":2909,"y":1059,"v":78},{"x":2959,"y":1057,"v":62},{"x":2830,"y":1087,"v":64},{"x":2880,"y":1085,"v":67.5},{"x":2780,"y":1089,"v":61.5},{"x":2751,"y":1116,"v":64},{"x":2801,"y":1113,"v":74.5},{"x":2811,"y":1134,"v":83},{"x":2772,"y":1140,"v":67.5},{"x":2721,"y":1143,"v":71.5},{"x":2691,"y":1169,"v":74},{"x":2741,"y":1167,"v":72.5},{"x":2660,"y":1196,"v":73.5},{"x":2711,"y":1195,"v":75},
{"x":2629,"y":1224,"v":73},{"x":2681,"y":1222,"v":73},{"x":2578,"y":1227,"v":75},{"x":2598,"y":1252,"v":73.5},{"x":2567,"y":1280,"v":75},{"x":2619,"y":1278,"v":75},{"x":2534,"y":1308,"v":78},{"x":2586,"y":1306,"v":77},{"x":2523,"y":1363,"v":81},{"x":2543,"y":1390,"v":81},{"x":2717,"y":1337,"v":75},{"x":2769,"y":1304,"v":77},{"x":2806,"y":1286,"v":85},
{"x":2996,"y":587,"v":71},{"x":3018,"y":609,"v":72},{"x":3068,"y":607,"v":71.5},{"x":3090,"y":630,"v":78},{"x":3140,"y":627,"v":68},{"x":3163,"y":649,"v":73},{"x":3214,"y":647,"v":72},{"x":3237,"y":669,"v":72.5},{"x":3288,"y":667,"v":70},{"x":3311,"y":690,"v":73},{"x":3361,"y":687,"v":72.5},{"x":3385,"y":710,"v":73},{"x":3410,"y":733,"v":73},{"x":3433,"y":757,"v":73},{"x":3458,"y":780,"v":83},
{"x":3016,"y":810,"v":64},{"x":3038,"y":832,"v":64},{"x":3088,"y":830,"v":61.5},{"x":3110,"y":853,"v":82},{"x":3160,"y":851,"v":60},{"x":3182,"y":874,"v":64},{"x":3232,"y":872,"v":72},{"x":3255,"y":895,"v":72},{"x":3306,"y":893,"v":72},{"x":3329,"y":917,"v":72},{"x":3380,"y":914,"v":73},{"x":3404,"y":937,"v":83},{"x":3427,"y":962,"v":79},{"x":3452,"y":985,"v":80},{"x":3476,"y":1010,"v":80},
{"x":3009,"y":1055,"v":60.5},{"x":3030,"y":1078,"v":55},{"x":3052,"y":1102,"v":85},{"x":3101,"y":1100,"v":66},{"x":3151,"y":1097,"v":50},{"x":3174,"y":1122,"v":79},{"x":3224,"y":1120,"v":64},{"x":3247,"y":1144,"v":69.5},{"x":3270,"y":1168,"v":67.5},{"x":3293,"y":1193,"v":68},
{"x":3320,"y":1166,"v":78},{"x":3371,"y":1164,"v":71},{"x":3394,"y":1189,"v":73},{"x":3344,"y":1191,"v":64},{"x":3317,"y":1218,"v":73},{"x":3266,"y":1220,"v":74.5},{"x":3289,"y":1246,"v":72},{"x":3237,"y":1248,"v":76.5},{"x":3260,"y":1274,"v":73},{"x":3210,"y":1276,"v":73},{"x":3232,"y":1302,"v":75},{"x":3204,"y":1330,"v":77},{"x":3256,"y":1328,"v":77},{"x":3152,"y":1333,"v":85},{"x":3163,"y":1372,"v":73},{"x":3108,"y":1377,"v":75},{"x":3131,"y":1403,"v":81},{"x":3101,"y":1432,"v":83},{"x":3155,"y":1430,"v":83},{"x":3049,"y":1435,"v":83},{"x":3042,"y":1492,"v":83},{"x":3095,"y":1490,"v":83}
],
"dbm18":[
{"x":1765,"y":2415,"v":76.5},{"x":1815,"y":2415,"v":70},{"x":1863,"y":2414,"v":71},{"x":1885,"y":2434,"v":72.5},{"x":1934,"y":2433,"v":72.5},{"x":1957,"y":2453,"v":73},{"x":1788,"y":2435,"v":80},{"x":1739,"y":2435,"v":80},{"x":1762,"y":2456,"v":80},{"x":1712,"y":2456,"v":83},{"x":1735,"y":2477,"v":81},{"x":1790,"y":2690,"v":75},{"x":1839,"y":2690,"v":77},{"x":1886,"y":2688,"v":67},{"x":1909,"y":2710,"v":68},{"x":1957,"y":2709,"v":65.5},{"x":1764,"y":2711,"v":84},{"x":1813,"y":2711,"v":73},{"x":1883,"y":2723,"v":77},{"x":1738,"y":2734,"v":70},{"x":1787,"y":2733,"v":80},{"x":1761,"y":2755,"v":70},{"x":1922,"y":2755,"v":83},{"x":1980,"y":2730,"v":59},
{"x":2007,"y":2452,"v":73},{"x":2030,"y":2473,"v":72},{"x":2079,"y":2472,"v":68},{"x":2103,"y":2492,"v":77},{"x":2152,"y":2492,"v":64},{"x":2177,"y":2512,"v":72.5},{"x":2226,"y":2511,"v":72.5},{"x":2251,"y":2532,"v":73},{"x":2301,"y":2531,"v":68},{"x":2326,"y":2552,"v":81},{"x":2375,"y":2551,"v":81},{"x":2401,"y":2572,"v":81},{"x":2427,"y":2594,"v":81},
{"x":2028,"y":2729,"v":64},{"x":2052,"y":2750,"v":66},{"x":2101,"y":2750,"v":60},{"x":2125,"y":2771,"v":60},{"x":2173,"y":2770,"v":59},{"x":2198,"y":2792,"v":64},{"x":2246,"y":2791,"v":64},{"x":2271,"y":2812,"v":72},{"x":2320,"y":2811,"v":73},{"x":2345,"y":2834,"v":72},{"x":2393,"y":2832,"v":72.5},{"x":2419,"y":2854,"v":72},{"x":2445,"y":2877,"v":81},{"x":2471,"y":2900,"v":78},{"x":2497,"y":2922,"v":80},
{"x":1978,"y":3023,"v":79},{"x":2026,"y":3022,"v":61},{"x":2049,"y":3045,"v":56},{"x":2072,"y":3067,"v":53},{"x":2121,"y":3066,"v":60},{"x":2169,"y":3065,"v":50},{"x":2193,"y":3088,"v":59},{"x":2241,"y":3087,"v":60},
{"x":2266,"y":3110,"v":71},{"x":2290,"y":3133,"v":65.5},{"x":2339,"y":3132,"v":71.5},{"x":2388,"y":3131,"v":71.5},{"x":2413,"y":3154,"v":72},{"x":2363,"y":3156,"v":66},{"x":2315,"y":3156,"v":69.5},{"x":2290,"y":3180,"v":73},{"x":2340,"y":3179,"v":73},{"x":2316,"y":3204,"v":73},{"x":2266,"y":3204,"v":77},{"x":2291,"y":3229,"v":74.5},{"x":2242,"y":3230,"v":73},{"x":2266,"y":3253,"v":73},{"x":2242,"y":3278,"v":74.5},{"x":2291,"y":3278,"v":74.5},{"x":2191,"y":3279,"v":77},{"x":2205,"y":3315,"v":73},{"x":2153,"y":3317,"v":74.5},{"x":2178,"y":3342,"v":86},{"x":2152,"y":3368,"v":85},{"x":2101,"y":3368,"v":83},{"x":2126,"y":3394,"v":81},{"x":2100,"y":3420,"v":81},{"x":2151,"y":3419,"v":81},{"x":2048,"y":3421,"v":81},{"x":2020,"y":3501,"v":81},{"x":1975,"y":3397,"v":81},
{"x":1837,"y":2981,"v":62},{"x":1884,"y":2980,"v":61.5},{"x":1907,"y":3002,"v":59.5},{"x":1859,"y":3003,"v":67},{"x":1882,"y":3024,"v":59},{"x":1930,"y":3024,"v":59.5},{"x":1904,"y":3047,"v":80},{"x":1856,"y":3048,"v":64},{"x":1808,"y":3049,"v":60},{"x":1831,"y":3071,"v":72.5},{"x":1782,"y":3071,"v":64},{"x":1804,"y":3094,"v":67},{"x":1755,"y":3095,"v":70},{"x":1729,"y":3118,"v":71.5},{"x":1778,"y":3118,"v":71.5},{"x":1702,"y":3142,"v":73},{"x":1751,"y":3142,"v":74},{"x":1675,"y":3166,"v":86},{"x":1725,"y":3166,"v":73},{"x":1626,"y":3167,"v":72.5},{"x":1648,"y":3191,"v":73},{"x":1671,"y":3215,"v":74.5},{"x":1621,"y":3215,"v":72.5},{"x":1643,"y":3239,"v":78},{"x":1593,"y":3239,"v":80},{"x":1615,"y":3264,"v":78},{"x":1565,"y":3264,"v":81},{"x":1587,"y":3289,"v":79},{"x":1609,"y":3314,"v":81},{"x":1632,"y":3338,"v":83},{"x":1775,"y":3260,"v":73},{"x":1825,"y":3221,"v":77},{"x":1861,"y":3194,"v":81},{"x":1899,"y":3166,"v":81},{"x":1808,"y":3361,"v":82},{"x":1790,"y":3425,"v":81},{"x":1842,"y":3424,"v":84.5},{"x":1814,"y":3451,"v":83},{"x":1890,"y":3476,"v":81},{"x":1921,"y":3397,"v":81}
]
},
"encoding":{
"x":{"field":"x","type":"quantitative","scale":{"domain":[0,4066],"nice":false,"zero":false},"axis":null},
"y":{"field":"y","type":"quantitative","scale":{"domain":[3968,0],"nice":false,"zero":false},"axis":null}
},
"layer":[
{"data":{"name":"panes"},"transform":[{"filter":"datum.pane==='left'"}],"mark":{"type":"area","color":"#f8f8f8"},"encoding":{"y2":{"field":"y2"},"detail":{"field":"panel"}}},
{"data":{"name":"panes"},"transform":[{"filter":"datum.pane==='back'"}],"mark":{"type":"area","color":"#f1f1f1"},"encoding":{"y2":{"field":"y2"},"detail":{"field":"panel"}}},
{"data":{"name":"panes"},"transform":[{"filter":"datum.pane==='floor'"}],"mark":{"type":"area","color":"#f5f5f5"},"encoding":{"y2":{"field":"y2"},"detail":{"field":"panel"}}},
{"data":{"name":"grid"},"mark":{"type":"rule","color":"#bcbcbc","strokeWidth":3.5},"encoding":{"x2":{"field":"x2"},"y2":{"field":"y2"}}},
{"data":{"name":"axes"},"mark":{"type":"rule","color":"#444444","strokeWidth":3.5},"encoding":{"x2":{"field":"x2"},"y2":{"field":"y2"}}},
{"data":{"name":"macId"},"mark":{"type":"circle","size":340,"opacity":1},"encoding":{"color":{"field":"v","type":"quantitative","scale":{"domain":[3,26.4,61.4,95],"range":["#ffffff","#ffff00","#ff0000","#0b0000"],"interpolate":"rgb","nice":false,"zero":false},"legend":{"title":null,"orient":"none","legendX":1642,"legendY":152,"direction":"vertical","gradientLength":1660,"gradientThickness":79,"values":[20,40,60,80],"labelFontSize":32,"labelFont":"DejaVu Sans","labelColor":"#333333","labelOffset":24,"gradientStrokeColor":"#444444","gradientStrokeWidth":3}}}},
{"data":{"name":"dbm34"},"mark":{"type":"circle","size":900,"opacity":1},"encoding":{"color":{"field":"v","type":"quantitative","scale":{"domain":[50,59.14,72.86,86],"range":["#ffffff","#ffff00","#ff0000","#0b0000"],"interpolate":"rgb","nice":false,"zero":false},"legend":{"title":null,"orient":"none","legendX":3822,"legendY":130,"direction":"vertical","gradientLength":1657,"gradientThickness":83,"values":[50,55,60,65,70,75,80,85],"labelFontSize":32,"labelFont":"DejaVu Sans","labelColor":"#333333","labelOffset":23,"gradientStrokeColor":"#444444","gradientStrokeWidth":3}}}},
{"data":{"name":"dbm18"},"mark":{"type":"circle","size":980,"opacity":1},"encoding":{"color":{"field":"v","type":"quantitative","scale":{"domain":[50,59.14,72.86,86],"range":["#ffffff","#ffff00","#ff0000","#0b0000"],"interpolate":"rgb","nice":false,"zero":false},"legend":{"title":null,"orient":"none","legendX":2834,"legendY":2103,"direction":"vertical","gradientLength":1657,"gradientThickness":83,"values":[50,55,60,65,70,75,80,85],"labelFontSize":32,"labelFont":"DejaVu Sans","labelColor":"#333333","labelOffset":26,"gradientStrokeColor":"#444444","gradientStrokeWidth":3}}}},
{"data":{"name":"labels"},"transform":[{"filter":"datum.k==='tick'"}],"mark":{"type":"text","font":"DejaVu Sans","fontSize":47,"align":"center","baseline":"middle","color":"#111111"},"encoding":{"text":{"field":"t"}}},
{"data":{"name":"labels"},"transform":[{"filter":"datum.k==='ytitle'"}],"mark":{"type":"text","font":"DejaVu Sans","fontSize":68,"fontStyle":"italic","angle":20,"align":"center","baseline":"middle","color":"#111111"},"encoding":{"text":{"field":"t"}}},
{"data":{"name":"labels"},"transform":[{"filter":"datum.k==='xtitle'"}],"mark":{"type":"text","font":"DejaVu Sans","fontSize":68,"angle":-46,"align":"center","baseline":"middle","color":"#111111"},"encoding":{"text":{"field":"t"}}},
{"data":{"name":"labels"},"transform":[{"filter":"datum.k==='ztitle'"}],"mark":{"type":"text","font":"DejaVu Sans","fontSize":68,"angle":-90,"align":"center","baseline":"middle","color":"#111111"},"encoding":{"text":{"field":"t"}}},
{"data":{"name":"labels"},"transform":[{"filter":"datum.k==='main'"}],"mark":{"type":"text","font":"DejaVu Sans","fontSize":100,"fontStyle":"italic","align":"left","baseline":"alphabetic","color":"#000000"},"encoding":{"text":{"field":"t"}}},
{"data":{"name":"labels"},"transform":[{"filter":"datum.k==='main2'"}],"mark":{"type":"text","font":"DejaVu Sans","fontSize":96,"fontStyle":"italic","align":"left","baseline":"alphabetic","color":"#000000"},"encoding":{"text":{"field":"t"}}},
{"data":{"name":"labels"},"transform":[{"filter":"datum.k==='sup'"}],"mark":{"type":"text","font":"DejaVu Sans","fontSize":70,"fontStyle":"italic","align":"left","baseline":"alphabetic","color":"#000000"},"encoding":{"text":{"field":"t"}}},
{"data":{"name":"labels"},"transform":[{"filter":"datum.k==='sub'"}],"mark":{"type":"text","font":"DejaVu Sans","fontSize":74,"align":"left","baseline":"alphabetic","color":"#000000"},"encoding":{"text":{"field":"t"}}},
{"data":{"name":"labels"},"transform":[{"filter":"datum.k==='caption'"}],"mark":{"type":"text","font":"Liberation Serif","fontSize":78,"fontWeight":"bold","align":"center","baseline":"alphabetic","color":"#000000"},"encoding":{"text":{"field":"t"}}}
],
"resolve":{"scale":{"color":"independent"},"legend":{"color":"independent"}},
"config":{"view":{"stroke":null}}
}
